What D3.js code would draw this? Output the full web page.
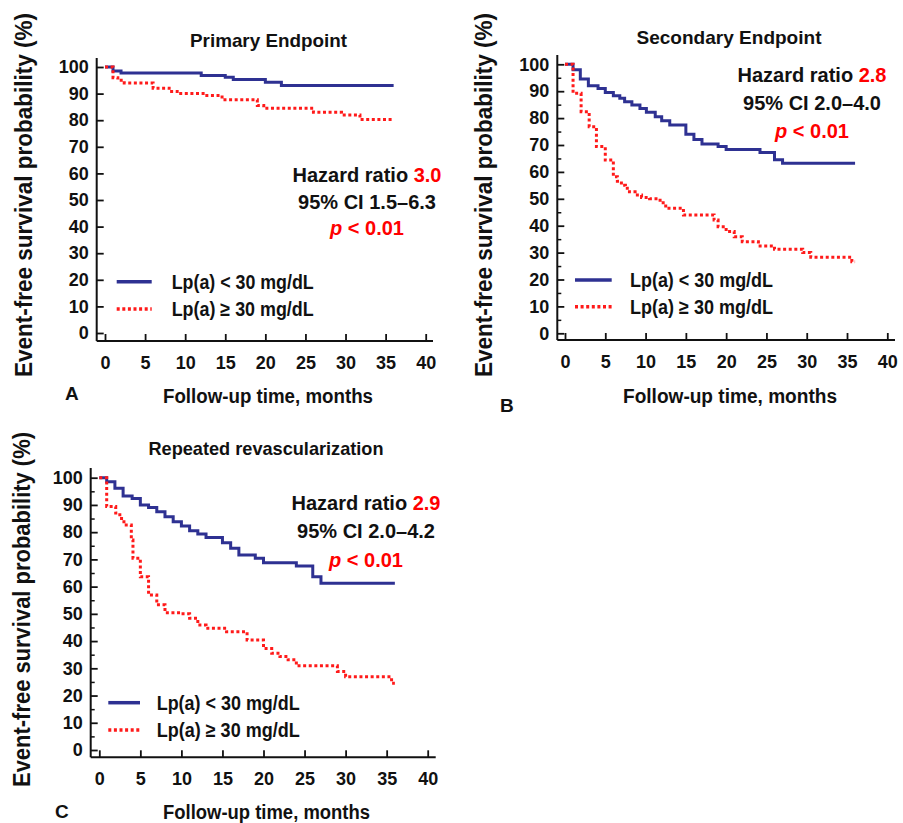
<!DOCTYPE html>
<html>
<head>
<meta charset="utf-8">
<script src="https://cdn.jsdelivr.net/npm/d3@7"></script>
<style>
body { margin: 0; background: #fff; }
text { font-family: "Liberation Sans", Arial, sans-serif; font-weight: bold; fill: #111; }
</style>
</head>
<body>
<script>
// Data
const xTicks = [0, 5, 10, 15, 20, 25, 30, 35, 40];
const yTicks = [0, 10, 20, 30, 40, 50, 60, 70, 80, 90, 100];
const yMinorTicks = [5, 15, 25, 35, 45, 55, 65, 75, 85, 95];
const seriesLabels = ["Lp(a) < 30 mg/dL", "Lp(a) \u2265 30 mg/dL"];
const panelTitles = ["Primary Endpoint", "Secondary Endpoint", "Repeated revascularization"];
const panelLetters = ["A", "B", "C"];
const hazardRatios = ["3.0", "2.8", "2.9"];
const confIntervals = ["95% CI 1.5\u20136.3", "95% CI 2.0\u20134.0", "95% CI 2.0\u20134.2"];
const pValues = ["< 0.01", "< 0.01", "< 0.01"];
const xLabel = "Follow-up time, months";
const yLabel = "Event-free survival probability (%)";

// Kaplan-Meier steps: [month, survival %]
const primaryLow = [[0, 100], [1, 98.5], [2, 97.7], [12, 96.8], [15, 96.1], [16, 95.3], [20, 94.3], [22, 93], [36, 93]];
const primaryHigh = [[0, 100], [1, 96], [1.6, 95], [2.4, 94], [6, 92], [8, 90.8], [9, 90], [12.5, 89.3], [14.6, 87.7],
  [19, 85.5], [19.8, 84.5], [26, 83], [29.5, 82], [31.8, 80.3], [36, 80.3]];
const secondaryLow = [[0, 100], [1, 98], [1.9, 94.5], [2.9, 92], [4.1, 91], [5, 89.5], [6, 88.3], [6.8, 87.4], [7.4, 86.1],
  [8.3, 84.9], [9.3, 83.6], [10.1, 82.2], [11.2, 80.5], [12, 79], [13, 77.4], [15, 74], [16, 72], [17, 70.4],
  [19, 69.4], [20, 68.3], [24.2, 67.2], [26, 64.5], [27, 63.2], [36, 63.2]];
const secondaryHigh = [[0, 100], [1, 89.2], [2, 82.4], [3, 76.8], [3.9, 69.4], [5, 64.4], [6, 58.2], [6.5, 56.5], [7, 55],
  [7.5, 53.9], [8, 52.6], [8.7, 51.4], [9.5, 50.5], [10.5, 50], [11.8, 48.5], [12.5, 46.5], [14.7, 44], [18.5, 42.1],
  [19, 39.6], [20, 37.8], [21, 35.9], [22, 34], [24, 32.5], [26, 31.2], [29.5, 30], [30.5, 28.3], [35.6, 26.6], [36, 26.6]];
const revascLow = [[0, 100], [0.9, 98.5], [1.9, 96.1], [2.9, 93.3], [4, 92.4], [5, 90], [6, 89.1], [7, 87.5], [8, 85.7],
  [9, 83.8], [10, 82.3], [11, 80.5], [12, 79.3], [13, 78], [15, 76.1], [16, 74.1], [17, 71.6], [19, 70.4],
  [20, 68.8], [24, 67.6], [26, 63.6], [27, 61.2], [36, 61.2]];
const revascHigh = [[0, 100], [0.9, 89.4], [2, 87], [2.5, 85], [3, 82.6], [3.9, 77.1], [4.1, 70.4], [5, 63.6], [6, 56.9],
  [7, 53.3], [8, 50.4], [10, 50], [11, 48.4], [12, 45.9], [13, 44.7], [15.5, 43.4], [18, 40.4], [20, 37.3],
  [21, 35.5], [22, 34.3], [23, 33.1], [24, 30.9], [29, 28.8], [30, 26.9], [35.6, 24.5], [36, 24.5]];

const blue = "#2e3192";
const red = "#ff1a1a";

// Panel layout
const panels = [
  { low: primaryLow, high: primaryHigh, xr: [105, 425.7], yr: [333, 67], axisX: 96.7, axisY: 341, yTop: 58, xRight: 433,
    title: [268.5, 46.5, 157], stats: [367, 182, 26.5], legend: [116.7, 151.7, 281.7, 171.7, 142, 27.3],
    xlab: [268, 403, 210], ylab: [32, 195, 364], letter: [65, 400], minor: false },
  { low: secondaryLow, high: secondaryHigh, xr: [565, 887.3], yr: [333.3, 64.3], axisX: 557.3, axisY: 340, yTop: 55, xRight: 895,
    title: [729, 43.5, 185], stats: [812, 81.7, 28.2], legend: [575, 611.7, 280, 630, 143, 26.7],
    xlab: [730, 403, 214], ylab: [492, 195, 364], letter: [500, 412], minor: true },
  { low: revascLow, high: revascHigh, xr: [99.3, 427.7], yr: [750, 477.7], axisX: 90.7, axisY: 757.3, yTop: 468, xRight: 435.7,
    title: [266, 455, 235], stats: [366, 510, 28.3], legend: [108.3, 140, 702.7, 156.7, 143, 27.3],
    xlab: [266.5, 819, 207], ylab: [30, 609.5, 355], letter: [55, 818], minor: true }
];

const svg = d3.select("body")
  .append("svg")
  .attr("width", 903)
  .attr("height", 823);

svg.append("rect").attr("width", 903).attr("height", 823).attr("fill", "#fff");

panels.forEach((p, i) => {
  const g = svg.append("g");
  const x = d3.scaleLinear().domain([0, 40]).range(p.xr);
  const y = d3.scaleLinear().domain([0, 100]).range(p.yr);

  // axis lines
  g.append("line")
    .attr("x1", p.axisX).attr("x2", p.axisX)
    .attr("y1", p.yTop).attr("y2", p.axisY)
    .attr("stroke", "#111").attr("stroke-width", 2);
  g.append("line")
    .attr("x1", p.axisX).attr("x2", p.xRight)
    .attr("y1", p.axisY).attr("y2", p.axisY)
    .attr("stroke", "#111").attr("stroke-width", 2);

  const xAxis = g.append("g")
    .attr("transform", `translate(0,${p.axisY})`)
    .call(d3.axisBottom(x).tickValues(xTicks).tickSize(-7).tickPadding(15));
  const yAxis = g.append("g")
    .attr("transform", `translate(${p.axisX},0)`)
    .call(d3.axisLeft(y).tickValues(yTicks).tickSize(-7).tickPadding(8));
  if (p.minor) {
    g.append("g")
      .attr("transform", `translate(${p.axisX},0)`)
      .call(d3.axisLeft(y).tickValues(yMinorTicks).tickSize(-4).tickFormat(""))
      .call(a => a.select(".domain").remove())
      .selectAll("line").attr("stroke", "#111").attr("stroke-width", 1.5);
  }
  [xAxis, yAxis].forEach(a => {
    a.select(".domain").remove();
    a.selectAll("line").attr("stroke", "#111").attr("stroke-width", 1.8);
    a.selectAll("text")
      .attr("font-family", '"Liberation Sans", Arial, sans-serif')
      .attr("font-weight", "bold")
      .attr("font-size", 18)
      .attr("fill", "#111");
  });

  // curves
  const line = d3.line()
    .x(d => x(d[0]))
    .y(d => y(d[1]))
    .curve(d3.curveStepAfter);
  g.append("path")
    .datum(p.low)
    .attr("d", line)
    .attr("fill", "none")
    .attr("stroke", blue)
    .attr("stroke-width", 3);
  g.append("path")
    .datum(p.high)
    .attr("d", line)
    .attr("fill", "none")
    .attr("stroke", red)
    .attr("stroke-width", 3)
    .attr("stroke-dasharray", "3,2.6");

  // title
  g.append("text")
    .attr("x", p.title[0]).attr("y", p.title[1])
    .attr("text-anchor", "middle")
    .attr("font-size", 19)
    .attr("textLength", p.title[2])
    .attr("lengthAdjust", "spacingAndGlyphs")
    .text(panelTitles[i]);

  // statistics
  const s1 = g.append("text")
    .attr("x", p.stats[0]).attr("y", p.stats[1])
    .attr("text-anchor", "middle").attr("font-size", 20);
  s1.append("tspan").text("Hazard ratio ");
  s1.append("tspan").style("fill", "#ff0000").text(hazardRatios[i]);
  g.append("text")
    .attr("x", p.stats[0]).attr("y", p.stats[1] + p.stats[2])
    .attr("text-anchor", "middle").attr("font-size", 20)
    .text(confIntervals[i]);
  const s3 = g.append("text")
    .attr("x", p.stats[0]).attr("y", p.stats[1] + 2 * p.stats[2])
    .attr("text-anchor", "middle").attr("font-size", 20)
    .style("fill", "#ff0000");
  s3.append("tspan").attr("font-style", "italic").text("p");
  s3.append("tspan").text(" " + pValues[i]);

  // legend
  const [lx1, lx2, ly, tx, tw, gap] = p.legend;
  [0, 1].forEach(k => {
    g.append("line")
      .attr("x1", lx1).attr("x2", lx2)
      .attr("y1", ly + k * gap).attr("y2", ly + k * gap)
      .attr("stroke", k ? red : blue)
      .attr("stroke-width", k ? 3.5 : 3.5)
      .attr("stroke-dasharray", k ? "3,2.6" : null);
    g.append("text")
      .attr("x", tx).attr("y", ly + k * gap + 6.8)
      .attr("font-size", 20)
      .attr("textLength", tw)
      .attr("lengthAdjust", "spacingAndGlyphs")
      .text(seriesLabels[k]);
  });

  // axis titles
  g.append("text")
    .attr("x", p.xlab[0]).attr("y", p.xlab[1])
    .attr("text-anchor", "middle")
    .attr("font-size", 20)
    .attr("textLength", p.xlab[2])
    .attr("lengthAdjust", "spacingAndGlyphs")
    .text(xLabel);
  g.append("text")
    .attr("transform", `translate(${p.ylab[0]},${p.ylab[1]}) rotate(-90)`)
    .attr("text-anchor", "middle")
    .attr("font-size", 23)
    .attr("textLength", p.ylab[2])
    .attr("lengthAdjust", "spacingAndGlyphs")
    .text(yLabel);

  g.append("text")
    .attr("x", p.letter[0]).attr("y", p.letter[1])
    .attr("font-size", 19)
    .text(panelLetters[i]);
});
</script>
</body>
</html>
